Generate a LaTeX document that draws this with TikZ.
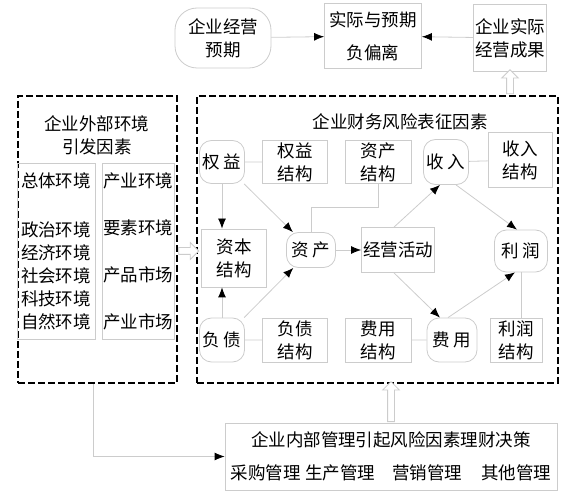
\documentclass[tikz,border=0pt]{standalone}
\usepackage{fontspec}
\setmainfont{Noto Sans CJK SC}
\usetikzlibrary{arrows.meta,shapes.arrows,calc}

\begin{document}
\begin{tikzpicture}[x={(1pt,0pt)},y={(0pt,-1pt)},
	font=\fontsize{17.5}{23}\selectfont,
	box/.style={draw=gray!40,line width=0.8pt,align=center,inner sep=1pt},
	rbox/.style={box,rounded corners=12pt},
	dbox/.style={draw,line width=2.2pt,dash pattern=on 7pt off 3pt},
	link/.style={draw=gray!40,line width=0.8pt},
	arr/.style={link,-{Latex[black,length=10pt,width=8pt]}},
	fat/.style={single arrow,draw=gray!40,line width=0.8pt,fill=white,inner sep=3pt,single arrow head extend=5pt}]
	\useasboundingbox (0,0) rectangle (566,500);
	\node[rbox,rounded corners=22pt,minimum width=96pt,minimum height=60pt] (expect) at (223,38) {企业经营\\预期};
	\node[box,minimum width=97pt,minimum height=65pt] (dev) at (373,36) {实际与预期\\[10pt]负偏离};
	\node[box,minimum width=73pt,minimum height=67pt] (result) at (510,38) {企业实际\\经营成果};
	\draw[arr] (expect) -- (dev);
	\draw[arr] (result) -- (dev);
	
	\node[dbox,minimum width=159pt,minimum height=287pt] (ext) at (97.5,239.5) {};
	\node[dbox,minimum width=361pt,minimum height=287pt] (risk) at (377.5,239.5) {};
	\node[align=center] (extt) at (97,135) {企业外部环境\\引发因素};
	\node (riskt) at (400,122) {企业财务风险表征因素};
	\node[box,minimum width=78pt,minimum height=176pt] (gen) at (56,251) {总体环境\\[26pt]政治环境\\经济环境\\社会环境\\科技环境\\自然环境};
	\node[box,minimum width=72pt,minimum height=176pt] (ind) at (138,251) {产业环境\\[24pt]要素环境\\[24pt]产品市场\\[24pt]产业市场};
	
	\node[rbox,minimum width=45pt,minimum height=43pt] (eq) at (222,162) {权 益};
	\node[box,minimum width=65pt,minimum height=43pt] (eqs) at (295,162) {权益\\结构};
	\node[box,minimum width=66pt,minimum height=43pt] (ass) at (378,162) {资产\\结构};
	\node[rbox,minimum width=45pt,minimum height=45pt] (inc) at (446,162) {收 入};
	\node[box,minimum width=64pt,minimum height=55pt] (incs) at (520,160) {收入\\结构};
	\node[box,minimum width=65pt,minimum height=58pt] (cap) at (234,258) {资本\\结构};
	\node[rbox,minimum width=49pt,minimum height=35pt] (asset) at (311,250) {资 产};
	\node[box,minimum width=73pt,minimum height=45pt] (op) at (398,250) {经营活动};
	\node[rbox,minimum width=53pt,minimum height=42pt] (prof) at (521,251) {利 润};
	\node[rbox,minimum width=45pt,minimum height=44pt] (debt) at (222,340) {负 债};
	\node[box,minimum width=65pt,minimum height=44pt] (debts) at (295,340) {负债\\结构};
	\node[box,minimum width=66pt,minimum height=44pt] (exps) at (378,340) {费用\\结构};
	\node[rbox,minimum width=50pt,minimum height=44pt] (exp) at (452,340) {费 用};
	\node[box,minimum width=52pt,minimum height=44pt] (profs) at (516,340) {利润\\结构};
	
	\draw[link] (eq) -- (eqs) (inc) -- (incs) (debt) -- (debts) (exps) -- (exp);
	\draw[link] (prof.south) -- (prof.south |- profs.north);
	\draw[link] (ass.south) -- ++(0,24) -| (asset.north);
	\draw[arr] (eq.south) -- (eq.south |- cap.north);
	\draw[arr] (debt.north) -- (debt.north |- cap.south);
	\draw[arr] (eq) -- (asset);
	\draw[arr] (debt) -- (asset);
	\draw[arr] (asset) -- (op);
	\draw[arr] ([xshift=-4pt]op.north) -- ([xshift=-6pt]inc.south);
	\draw[arr] ([xshift=-4pt]op.south) -- ([xshift=-12pt]exp.north);
	\draw[arr] ([xshift=10pt]inc.south) -- ([xshift=-4pt]prof.north);
	\draw[arr] ([xshift=-4pt]exp.north) -- ([xshift=-6pt]prof.south);
	
	\node[box,minimum width=332pt,minimum height=67pt] (mgmt) at (391,456.5) {企业内部管理引起风险因素理财决策\\[10pt]采购管理\hspace{5pt}生产管理\hspace{17pt}营销管理\hspace{19pt}其他管理};
	\draw[arr] ([xshift=-4.5pt]ext.south) |- (mgmt.west);
	
	\node[fat,minimum height=20pt] (a1) at ($(ext.east |- gen)!.5!(risk.west |- gen)$) {};
	\node[fat,rotate=90,minimum height=24pt] (a2) at ($(result.south)!.5!(result.south |- risk.north)$) {};
	\node[fat,rotate=90,minimum height=40pt] (a3) at ($(mgmt.north)!.5!(mgmt.north |- risk.south)$) {};
\end{tikzpicture}
\end{document}
